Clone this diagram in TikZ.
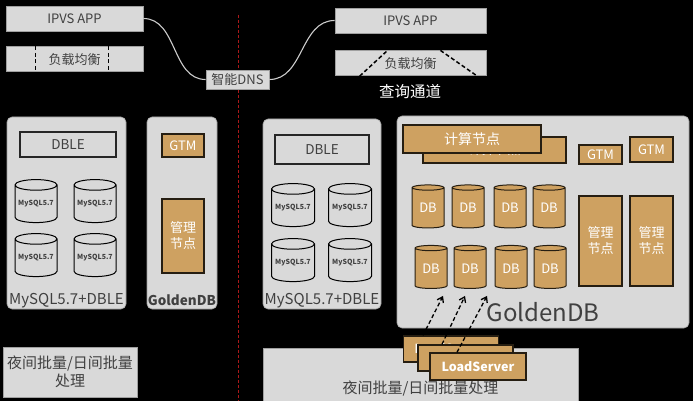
\documentclass[tikz,border=0pt]{standalone}
\usepackage{fontspec}
\setmainfont{Noto Sans CJK SC}
\usetikzlibrary{arrows.meta, positioning, shapes.geometric, calc}
\definecolor{panelgrey}{RGB}{217,217,217}
\definecolor{edgegrey}{RGB}{160,160,160}
\definecolor{textgrey}{RGB}{64,64,64}
\definecolor{tanfill}{RGB}{206,161,97}
\definecolor{tanedge}{RGB}{38,30,18}
\definecolor{splitred}{RGB}{170,25,25}
\tikzset{
    >=Latex,
    font=\fontsize{12}{14}\selectfont,
    node distance=15pt and 20pt,
    top_box/.style={
        rectangle,
        draw=edgegrey,
        fill=panelgrey,
        line width=0.8pt,
        minimum width=137pt,
        minimum height=25pt,
        inner sep=0pt,
        text=textgrey,
        font=\fontsize{13}{15}\selectfont
    },
    dns_box/.style={
        rectangle,
        draw=edgegrey,
        fill=panelgrey,
        line width=0.8pt,
        minimum width=63pt,
        minimum height=19pt,
        inner sep=0pt,
        text=textgrey,
        font=\fontsize{13}{15}\selectfont
    },
    panel/.style={
        rectangle,
        rounded corners=5pt,
        draw=edgegrey,
        fill=panelgrey,
        line width=0.6pt,
        inner sep=0pt
    },
    dble_box/.style={
        rectangle,
        draw=black!85,
        fill=panelgrey,
        line width=1.6pt,
        inner sep=0pt,
        text=textgrey,
        font=\fontsize{13.5}{15}\selectfont
    },
    tan_box/.style={
        rectangle,
        draw=tanedge,
        fill=tanfill,
        line width=1.4pt,
        inner sep=0pt,
        text=white,
        align=center,
        font=\fontsize{13}{16}\selectfont
    },
    mysql_db/.style={
        cylinder,
        shape border rotate=90,
        aspect=0.3,
        draw=black,
        fill=panelgrey,
        line width=1pt,
        minimum width=42pt,
        minimum height=43pt,
        inner sep=0pt,
        text=textgrey,
        font=\bfseries\fontsize{7}{8}\selectfont
    },
    golden_db/.style={
        cylinder,
        shape border rotate=90,
        aspect=0.3,
        draw=tanedge,
        fill=tanfill,
        line width=1pt,
        minimum width=32pt,
        minimum height=43pt,
        inner sep=0pt,
        text=white,
        font=\fontsize{13}{15}\selectfont
    },
    caption/.style={
        text=textgrey,
        inner sep=0pt,
        font=\fontsize{15}{17}\selectfont
    },
    batch_box/.style={
        rectangle,
        draw=edgegrey,
        fill=panelgrey,
        line width=0.6pt,
        inner sep=0pt,
        text=textgrey,
        align=center,
        font=\fontsize{15}{18}\selectfont
    },
    dns_link/.style={
        draw=black!20,
        line width=1.1pt
    },
    lb_dash/.style={
        draw=black,
        line width=1.5pt,
        dash pattern=on 4pt off 2.5pt
    },
    split_line/.style={
        draw=splitred,
        line width=0.8pt,
        dash pattern=on 3pt off 2pt
    },
    load_arrow/.style={
        -{Straight Barb[length=5pt, width=7pt]},
        draw=black,
        line width=1.3pt,
        dash pattern=on 4pt off 2.5pt
    }
}

\begin{document}
\begin{tikzpicture}[x=1pt, y=-1pt]
\fill[black] (0,0) rectangle (693,401);
\useasboundingbox (0,0) rectangle (693,401);

% --- Divider ---
\draw[split_line] (238,15) -- (238,401);

% --- Access layer ---
\node[top_box] (appL) at (74.5,18.5) {IPVS APP};
\node[top_box, below=15pt of appL] (lbL) {负载均衡};
\draw[lb_dash] ([xshift=30pt]lbL.north west) -- ([xshift=30pt]lbL.south west);
\draw[lb_dash] ([xshift=-35pt]lbL.north east) -- ([xshift=-35pt]lbL.south east);

\node[dns_box] (dns) at (237.5,79.5) {智能DNS};

\node[top_box, minimum width=151pt] (appR) at (410.5,20.5) {IPVS APP};
\node[top_box, minimum width=151pt, below=17pt of appR] (lbR) {负载均衡};
\draw[lb_dash] ([xshift=25pt]lbR.south west) -- ([xshift=53pt]lbR.north west);
\draw[lb_dash] ([xshift=-46pt]lbR.north east) -- ([xshift=-9pt]lbR.south east);
\node[text=white, inner sep=0pt, font=\fontsize{15.5}{17}\selectfont] (query) at (410,92) {查询通道};

\draw[dns_link] (appL.east) to[out=0, in=180] (dns.west);
\draw[dns_link] (dns.east) to[out=0, in=180] (appR.west);

% --- Left side: MySQL5.7+DBLE ---
\node[panel, minimum width=119pt, minimum height=192pt] (mysqlL) at (66.5,213) {};
\node[dble_box, minimum width=96pt, minimum height=25pt] (dbleL) at (68,144.5) {DBLE};
\node[mysql_db] (myL1) at (36,204) {MySQL5.7};
\node[mysql_db] (myL2) at (95,204) {MySQL5.7};
\node[mysql_db] (myL3) at (36,258) {MySQL5.7};
\node[mysql_db] (myL4) at (95,258) {MySQL5.7};
\node[caption] (capMysqlL) at ([yshift=9pt]mysqlL.south) {MySQL5.7+DBLE};

% --- Left side: GoldenDB ---
\node[panel, minimum width=70pt, minimum height=192pt] (goldL) at (182,213) {};
\node[tan_box, minimum width=42pt, minimum height=23pt] (gtmL) at (183,145.5) {GTM};
\node[tan_box, minimum width=42pt, minimum height=74pt] (mgmtL) at (183,236) {管理\\节点};
\node[caption, font=\bfseries\fontsize{13.5}{15}\selectfont] (capGoldL) at ([yshift=9pt]goldL.south) {GoldenDB};

\node[batch_box, minimum width=134pt, minimum height=50pt] (batchL) at (70,372) {夜间批量/日间批量\\处理};

% --- Right side: MySQL5.7+DBLE ---
\node[panel, minimum width=118pt, minimum height=190pt] (mysqlR) at (322,214) {};
\node[dble_box, minimum width=94pt, minimum height=29pt] (dbleR) at (322,149.5) {DBLE};
\node[mysql_db, minimum width=43pt] (myR1) at (293,208) {MySQL5.7};
\node[mysql_db, minimum width=43pt] (myR2) at (350,208) {MySQL5.7};
\node[mysql_db, minimum width=43pt] (myR3) at (293,263) {MySQL5.7};
\node[mysql_db, minimum width=43pt] (myR4) at (350,263) {MySQL5.7};
\node[caption] (capMysqlR) at ([yshift=9pt]mysqlR.south) {MySQL5.7+DBLE};

% --- Right side: GoldenDB ---
\node[panel, minimum width=292pt, minimum height=212pt] (goldR) at (543,222) {};
\node[tan_box, minimum width=143pt, minimum height=26pt] (calcB) at (494.5,150) {计算节点};
\node[tan_box, minimum width=138pt, minimum height=28pt, font=\fontsize{14}{16}\selectfont] (calcF) at (472,139) {计算节点};
\node[tan_box, minimum width=43pt, minimum height=19pt] (gtmR1) at (600.5,154.5) {GTM};
\node[tan_box, minimum width=43pt, minimum height=25pt] (gtmR2) at (651.5,149.5) {GTM};
\node[tan_box, minimum width=43pt, minimum height=90pt] (mgmtR1) at (600.5,241) {管理\\节点};
\node[tan_box, minimum width=43pt, minimum height=90pt] (mgmtR2) at (651.5,241) {管理\\节点};
\node[golden_db] (db11) at (428,208) {DB};
\node[golden_db] (db12) at (468,208) {DB};
\node[golden_db] (db13) at (510,208) {DB};
\node[golden_db] (db14) at (549,208) {DB};
\node[golden_db] (db21) at (431,268.5) {DB};
\node[golden_db] (db22) at (470,268.5) {DB};
\node[golden_db] (db23) at (511,268.5) {DB};
\node[golden_db] (db24) at (550,268.5) {DB};
\node[caption, font=\fontsize{24}{26}\selectfont] (capGoldR) at (543,312) {GoldenDB};

% --- Right side: batch ---
\node[batch_box, minimum width=315pt, minimum height=53pt] (batchR) at (420.5,374.5) {};
\node[caption] (batchText) at ([yshift=13pt]batchR.south) {夜间批量/日间批量处理};
\node[tan_box, minimum width=95pt, minimum height=26pt, font=\bfseries\fontsize{12.5}{14}\selectfont] (ls1) at (451,349) {LoadServer};
\node[tan_box, minimum width=95pt, minimum height=26pt, font=\bfseries\fontsize{12.5}{14}\selectfont] (ls2) at (465.5,358) {LoadServer};
\node[tan_box, minimum width=96pt, minimum height=27pt, font=\bfseries\fontsize{12.5}{14}\selectfont] (ls3) at (478,366.5) {LoadServer};

% --- Edges ---
\draw[load_arrow] ([xshift=-28pt]ls1.north) -- ([xshift=12pt, yshift=-7pt]db21.south);
\draw[load_arrow] ([xshift=-23.5pt]ls2.north) -- ([xshift=-5pt, yshift=-7pt]db22.south);
\draw[load_arrow] ([xshift=-21pt]ls3.north) -- ([xshift=17pt, yshift=-7pt]db22.south);

\end{tikzpicture}
\end{document}
